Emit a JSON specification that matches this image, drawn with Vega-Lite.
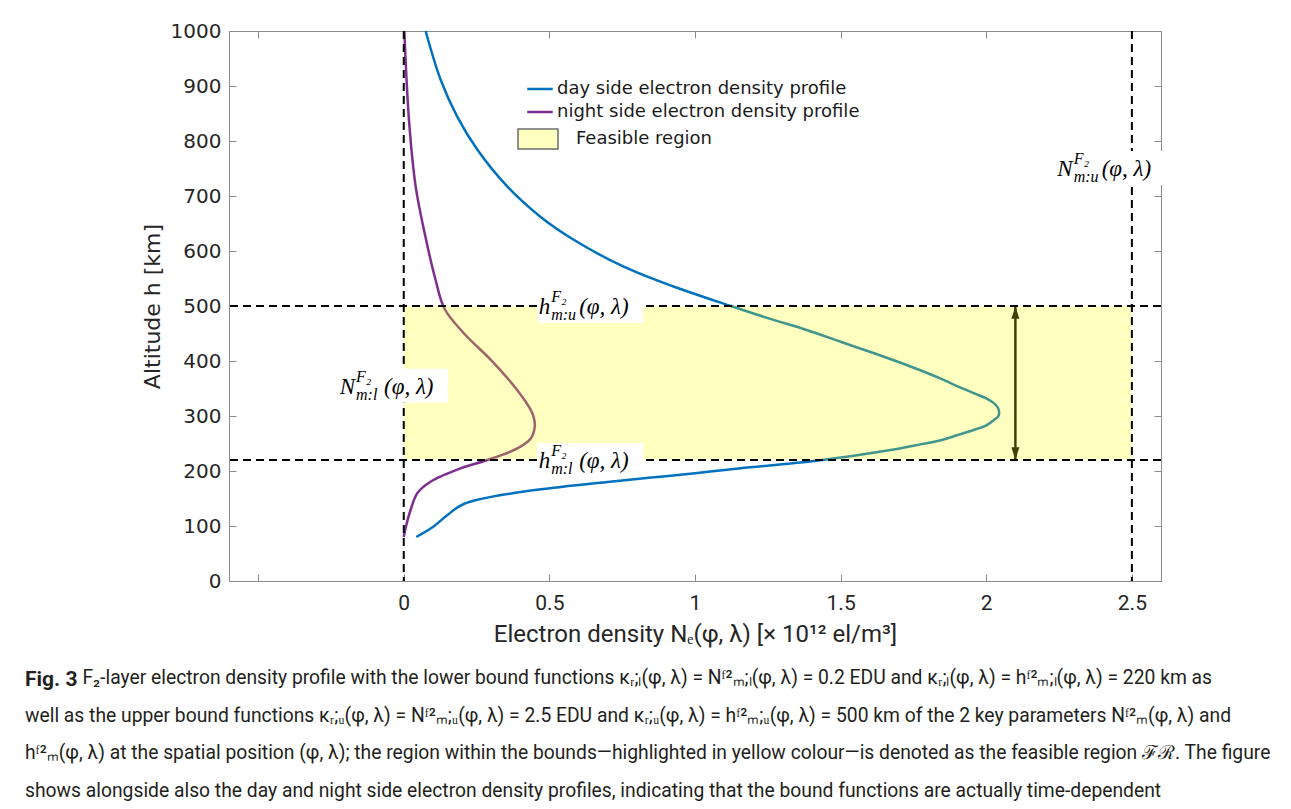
{
  "$schema": "https://vega.github.io/schema/vega-lite/v6.json",
  "width": 932,
  "height": 550,
  "autosize": {"type": "none"},
  "padding": {"left": 229, "top": 31, "right": 130, "bottom": 228},
  "background": "white",
  "config": {
    "view": {"stroke": "#8c8c8c", "strokeWidth": 1},
    "axis": {"domainColor": "#8c8c8c", "tickColor": "#8c8c8c", "grid": false, "labelColor": "#262626", "titleColor": "#262626", "titleFontWeight": "normal"}
  },
  "title": {
    "text": "Fig. 3",
    "subtitle": [
      "\u200b\u00a0\u00a0\u00a0\u00a0\u00a0\u00a0\u00a0\u00a0\u00a0\u00a0\u00a0\u00a0F₂-layer electron density profile with the lower bound functions κᵣ;ₗ(φ, λ) = Nᶠ²ₘ;ₗ(φ, λ) = 0.2 EDU and κᵣ;ₗ(φ, λ) = hᶠ²ₘ;ₗ(φ, λ) = 220 km as",
      "well as the upper bound functions κᵣ;ᵤ(φ, λ) = Nᶠ²ₘ;ᵤ(φ, λ) = 2.5 EDU and κᵣ;ᵤ(φ, λ) = hᶠ²ₘ;ᵤ(φ, λ) = 500 km of the 2 key parameters Nᶠ²ₘ(φ, λ) and",
      "hᶠ²ₘ(φ, λ) at the spatial position (φ, λ); the region within the bounds—highlighted in yellow colour—is denoted as the feasible region ℱℛ. The figure",
      "shows alongside also the day and night side electron density profiles, indicating that the bound functions are actually time-dependent"
    ],
    "orient": "bottom",
    "anchor": "start",
    "frame": "group",
    "dx": -204,
    "offset": 23,
    "font": "Roboto",
    "fontSize": 21,
    "fontWeight": "bold",
    "color": "#231f20",
    "subtitleFont": "Roboto",
    "subtitleFontSize": 19.3,
    "subtitleColor": "#231f20",
    "subtitleLineHeight": 37.5,
    "subtitlePadding": -21
  },
  "datasets": {
    "profiles": [
      {"profile": "day side electron density profile", "ne": 0.043, "h": 80},
      {"profile": "day side electron density profile", "ne": 0.10, "h": 98},
      {"profile": "day side electron density profile", "ne": 0.15, "h": 120},
      {"profile": "day side electron density profile", "ne": 0.206, "h": 140},
      {"profile": "day side electron density profile", "ne": 0.378, "h": 160},
      {"profile": "day side electron density profile", "ne": 0.54, "h": 171},
      {"profile": "day side electron density profile", "ne": 0.70, "h": 180},
      {"profile": "day side electron density profile", "ne": 0.85, "h": 188},
      {"profile": "day side electron density profile", "ne": 1.0, "h": 196},
      {"profile": "day side electron density profile", "ne": 1.157, "h": 205},
      {"profile": "day side electron density profile", "ne": 1.409, "h": 218},
      {"profile": "day side electron density profile", "ne": 1.672, "h": 238},
      {"profile": "day side electron density profile", "ne": 1.75, "h": 246},
      {"profile": "day side electron density profile", "ne": 1.844, "h": 256},
      {"profile": "day side electron density profile", "ne": 1.90, "h": 265},
      {"profile": "day side electron density profile", "ne": 1.959, "h": 275},
      {"profile": "day side electron density profile", "ne": 2.0, "h": 283},
      {"profile": "day side electron density profile", "ne": 2.027, "h": 293},
      {"profile": "day side electron density profile", "ne": 2.042, "h": 300},
      {"profile": "day side electron density profile", "ne": 2.044, "h": 308},
      {"profile": "day side electron density profile", "ne": 2.04, "h": 315},
      {"profile": "day side electron density profile", "ne": 2.027, "h": 323},
      {"profile": "day side electron density profile", "ne": 2.0, "h": 332},
      {"profile": "day side electron density profile", "ne": 1.959, "h": 341},
      {"profile": "day side electron density profile", "ne": 1.91, "h": 352},
      {"profile": "day side electron density profile", "ne": 1.844, "h": 368},
      {"profile": "day side electron density profile", "ne": 1.74, "h": 390},
      {"profile": "day side electron density profile", "ne": 1.615, "h": 414},
      {"profile": "day side electron density profile", "ne": 1.50, "h": 435},
      {"profile": "day side electron density profile", "ne": 1.386, "h": 456},
      {"profile": "day side electron density profile", "ne": 1.25, "h": 478},
      {"profile": "day side electron density profile", "ne": 1.123, "h": 500},
      {"profile": "day side electron density profile", "ne": 0.928, "h": 535},
      {"profile": "day side electron density profile", "ne": 0.757, "h": 571},
      {"profile": "day side electron density profile", "ne": 0.585, "h": 620},
      {"profile": "day side electron density profile", "ne": 0.47, "h": 662},
      {"profile": "day side electron density profile", "ne": 0.356, "h": 717},
      {"profile": "day side electron density profile", "ne": 0.253, "h": 784},
      {"profile": "day side electron density profile", "ne": 0.184, "h": 844},
      {"profile": "day side electron density profile", "ne": 0.127, "h": 911},
      {"profile": "day side electron density profile", "ne": 0.075, "h": 1000},
      {"profile": "night side electron density profile", "ne": 0.0, "h": 80},
      {"profile": "night side electron density profile", "ne": 0.008, "h": 100},
      {"profile": "night side electron density profile", "ne": 0.024, "h": 130},
      {"profile": "night side electron density profile", "ne": 0.047, "h": 160},
      {"profile": "night side electron density profile", "ne": 0.093, "h": 181},
      {"profile": "night side electron density profile", "ne": 0.196, "h": 205},
      {"profile": "night side electron density profile", "ne": 0.287, "h": 220},
      {"profile": "night side electron density profile", "ne": 0.39, "h": 241},
      {"profile": "night side electron density profile", "ne": 0.436, "h": 259},
      {"profile": "night side electron density profile", "ne": 0.45, "h": 281},
      {"profile": "night side electron density profile", "ne": 0.447, "h": 296},
      {"profile": "night side electron density profile", "ne": 0.436, "h": 311},
      {"profile": "night side electron density profile", "ne": 0.39, "h": 347},
      {"profile": "night side electron density profile", "ne": 0.299, "h": 402},
      {"profile": "night side electron density profile", "ne": 0.207, "h": 450},
      {"profile": "night side electron density profile", "ne": 0.14, "h": 495},
      {"profile": "night side electron density profile", "ne": 0.108, "h": 550},
      {"profile": "night side electron density profile", "ne": 0.072, "h": 632},
      {"profile": "night side electron density profile", "ne": 0.041, "h": 717},
      {"profile": "night side electron density profile", "ne": 0.018, "h": 838},
      {"profile": "night side electron density profile", "ne": 0.002, "h": 1000}
    ],
    "arrow": [{"ne": 2.1, "h0": 220, "h1": 500}],
    "heads": [{"ne": 2.1, "h": 500, "dir": "up"}, {"ne": 2.1, "h": 220, "dir": "down"}],
    "region": [{"region": "Feasible region", "ne0": 0, "ne1": 2.5, "h0": 220, "h1": 500}],
    "hbounds": [{"h": 220}, {"h": 500}],
    "vbounds": [{"ne": 0}, {"ne": 2.5}],
    "labels": [
      {"ne": 0.64, "h": 500, "base": "h", "sup": "F₂", "sub": "m:u", "tail": "(φ, λ)"},
      {"ne": 0.64, "h": 220, "base": "h", "sup": "F₂", "sub": "m:l", "tail": "(φ, λ)"},
      {"ne": -0.03, "h": 355, "base": "N", "sup": "F₂", "sub": "m:l", "tail": "(φ, λ)"},
      {"ne": 2.434, "h": 751, "base": "N", "sup": "F₂", "sub": "m:u", "tail": "(φ, λ)"}
    ]
  },
  "resolve": {"axis": {"x": "independent", "y": "independent"}},
  "layer": [
    {
      "data": {"name": "profiles"},
      "mark": {"type": "line", "strokeWidth": 2.5, "interpolate": "catmull-rom"},
      "encoding": {
        "x": {
          "field": "ne", "type": "quantitative",
          "scale": {"domain": [-0.6, 2.6], "nice": false, "zero": false},
          "axis": {
            "orient": "bottom",
            "values": [-0.5, 0, 0.5, 1, 1.5, 2, 2.5],
            "labelExpr": "datum.value == -0.5 ? '' : format(datum.value, '~g')",
            "tickSize": -7, "labelPadding": 18,
            "labelFont": "Roboto", "labelFontSize": 21, "labelFlush": false,
            "title": "Electron density Nₑ(φ, λ)  [× 10¹² el/m³]",
            "titleFont": "Roboto", "titleFontSize": 24, "titlePadding": 9
          }
        },
        "y": {
          "field": "h", "type": "quantitative",
          "scale": {"domain": [0, 1000], "nice": false, "zero": false},
          "axis": {
            "orient": "left",
            "values": [0, 100, 200, 300, 400, 500, 600, 700, 800, 900, 1000],
            "format": "d",
            "tickSize": -7, "labelPadding": 15,
            "labelFont": "DejaVu Sans", "labelFontSize": 20, "labelFlush": false,
            "title": "Altitude h [km]",
            "titleFont": "DejaVu Sans", "titleFontSize": 22, "titlePadding": 6
          }
        },
        "color": {
          "field": "profile", "type": "nominal",
          "scale": {"domain": ["day side electron density profile", "night side electron density profile"], "range": ["#0072BD", "#7E2F8E"]},
          "legend": {
            "orient": "none", "legendX": 297, "legendY": 44, "title": null,
            "symbolType": "stroke", "symbolSize": 650, "symbolStrokeWidth": 2.5,
            "labelFont": "DejaVu Sans", "labelFontSize": 18, "labelColor": "#1a1a1a", "labelOffset": 3, "labelLimit": 500,
            "rowPadding": 0, "padding": 0
          }
        },
        "order": {"field": "h", "type": "quantitative"}
      }
    },
    {
      "data": {"name": "arrow"},
      "mark": {"type": "rule", "color": "black", "strokeWidth": 2.5},
      "encoding": {
        "x": {"field": "ne", "type": "quantitative", "axis": null},
        "y": {"field": "h0", "type": "quantitative", "axis": null},
        "y2": {"field": "h1"}
      }
    },
    {
      "data": {"name": "heads"},
      "mark": {"type": "point", "filled": true, "color": "black", "opacity": 1, "size": 256},
      "encoding": {
        "x": {"field": "ne", "type": "quantitative", "axis": null},
        "y": {"field": "h", "type": "quantitative", "axis": null},
        "shape": {
          "field": "dir", "type": "nominal",
          "scale": {"domain": ["up", "down"], "range": ["M0,0L-0.5,1.6L0.5,1.6Z", "M0,0L-0.5,-1.6L0.5,-1.6Z"]},
          "legend": null
        }
      }
    },
    {
      "data": {"name": "region"},
      "mark": {"type": "rect"},
      "encoding": {
        "x": {
          "field": "ne0", "type": "quantitative",
          "axis": {"orient": "top", "values": [-0.5, 0, 0.5, 1, 1.5, 2, 2.5], "labels": false, "tickSize": -7, "title": null}
        },
        "x2": {"field": "ne1"},
        "y": {
          "field": "h0", "type": "quantitative",
          "axis": {"orient": "right", "values": [0, 100, 200, 300, 400, 500, 600, 700, 800, 900, 1000], "labels": false, "tickSize": -7, "title": null}
        },
        "y2": {"field": "h1"},
        "fill": {
          "field": "region", "type": "nominal",
          "scale": {"domain": ["Feasible region"], "range": ["rgba(255,255,0,0.25)"]},
          "legend": {
            "orient": "none", "legendX": 288, "legendY": 87, "title": null,
            "symbolType": "M-1,-0.5H1V0.5H-1Z", "symbolSize": 1600,
            "symbolStrokeColor": "#6e6e6e", "symbolStrokeWidth": 1.5, "symbolOpacity": 1,
            "labelFont": "DejaVu Sans", "labelFontSize": 18, "labelColor": "#1a1a1a", "labelOffset": 17, "labelLimit": 500, "padding": 0,
            "encode": {"symbols": {"update": {"stroke": {"value": "#6e6e6e"}, "strokeWidth": {"value": 1.5}}}}
          }
        }
      }
    },
    {
      "data": {"name": "hbounds"},
      "mark": {"type": "rule", "color": "black", "strokeWidth": 2, "strokeDash": [8, 5]},
      "encoding": {"y": {"field": "h", "type": "quantitative", "axis": null}}
    },
    {
      "data": {"name": "vbounds"},
      "mark": {"type": "rule", "color": "black", "strokeWidth": 2, "strokeDash": [8, 5]},
      "encoding": {"x": {"field": "ne", "type": "quantitative", "axis": null}}
    },
    {
      "data": {"name": "labels"},
      "mark": {"type": "point", "shape": "M-1,-0.32H1V0.32H-1Z", "size": 11236, "filled": true, "color": "white", "opacity": 1, "strokeWidth": 0},
      "encoding": {
        "x": {"field": "ne", "type": "quantitative", "axis": null},
        "y": {"field": "h", "type": "quantitative", "axis": null}
      }
    },
    {
      "data": {"name": "labels"},
      "mark": {"type": "text", "font": "Liberation Serif", "fontStyle": "italic", "fontSize": 23, "align": "right", "baseline": "alphabetic", "dx": -40, "dy": 8, "color": "black"},
      "encoding": {
        "x": {"field": "ne", "type": "quantitative", "axis": null},
        "y": {"field": "h", "type": "quantitative", "axis": null},
        "text": {"field": "base"}
      }
    },
    {
      "data": {"name": "labels"},
      "mark": {"type": "text", "font": "Liberation Serif", "fontStyle": "italic", "fontSize": 16, "align": "left", "baseline": "alphabetic", "dx": -39, "dy": -4, "color": "black"},
      "encoding": {
        "x": {"field": "ne", "type": "quantitative", "axis": null},
        "y": {"field": "h", "type": "quantitative", "axis": null},
        "text": {"field": "sup"}
      }
    },
    {
      "data": {"name": "labels"},
      "mark": {"type": "text", "font": "Liberation Serif", "fontStyle": "italic", "fontSize": 16, "align": "left", "baseline": "alphabetic", "dx": -39, "dy": 14, "color": "black"},
      "encoding": {
        "x": {"field": "ne", "type": "quantitative", "axis": null},
        "y": {"field": "h", "type": "quantitative", "axis": null},
        "text": {"field": "sub"}
      }
    },
    {
      "data": {"name": "labels"},
      "mark": {"type": "text", "font": "Liberation Serif", "fontStyle": "italic", "fontSize": 23, "align": "left", "baseline": "alphabetic", "dx": -11, "dy": 8, "color": "black"},
      "encoding": {
        "x": {"field": "ne", "type": "quantitative", "axis": null},
        "y": {"field": "h", "type": "quantitative", "axis": null},
        "text": {"field": "tail"}
      }
    }
  ]
}
